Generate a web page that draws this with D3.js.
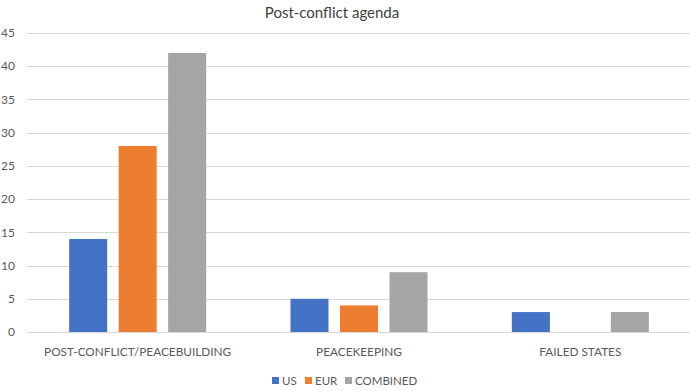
<!DOCTYPE html>
<html>
<head>
<meta charset="utf-8">
<script src="https://cdn.jsdelivr.net/npm/d3@7"></script>
<style>
  body { margin: 0; background: #fff; }
  svg text { font-family: Lato, "Open Sans", sans-serif; fill: #595959; }
</style>
</head>
<body>
<svg id="chart" width="690" height="391"></svg>
<script>
// data
const categories = ["POST-CONFLICT/PEACEBUILDING", "PEACEKEEPING", "FAILED STATES"];
const seriesNames = ["US", "EUR", "COMBINED"];
const usValues = [14, 5, 3];
const eurValues = [28, 4, 0];
const combinedValues = [42, 9, 3];
const yTicks = [0, 5, 10, 15, 20, 25, 30, 35, 40, 45];
const colors = ["#4472C4", "#ED7D31", "#A5A5A5"];

const svg = d3.select("#chart");
const plot = {left: 27, right: 691, top: 33, bottom: 332};

// title
svg.append("text")
    .attr("x", 332)
    .attr("y", 18)
    .attr("text-anchor", "middle")
    .style("font-size", "15px")
    .style("fill", "#404040")
    .text("Post-conflict agenda");

const y = d3.scaleLinear().domain([0, 45]).range([plot.bottom, plot.top]);

const x0 = d3.scaleBand().domain(categories).range([plot.left, plot.right]);
const groupW = 137;
const x1 = d3.scaleBand()
    .domain(seriesNames)
    .range([(x0.bandwidth() - groupW) / 2, (x0.bandwidth() + groupW) / 2])
    .paddingInner(0.232);

// gridlines
svg.append("g").selectAll("line")
    .data(yTicks)
    .join("line")
    .attr("x1", plot.left)
    .attr("x2", 690)
    .attr("y1", d => Math.round(y(d)) + 0.5)
    .attr("y2", d => Math.round(y(d)) + 0.5)
    .attr("stroke", "#d9d9d9")
    .attr("stroke-width", 1);

// y tick labels
svg.append("g").selectAll("text")
    .data(yTicks)
    .join("text")
    .attr("x", 15)
    .attr("y", d => y(d))
    .attr("dy", "0.35em")
    .attr("text-anchor", "end")
    .style("font-size", "12px")
    .text(d => d);

// bars
const rows = categories.map((c, i) => ({
    cat: c,
    vals: [usValues[i], eurValues[i], combinedValues[i]]
}));

const groups = svg.append("g").selectAll("g")
    .data(rows)
    .join("g")
    .attr("transform", d => `translate(${x0(d.cat)},0)`);

groups.selectAll("rect")
    .data(d => d.vals.map((v, j) => ({name: seriesNames[j], value: v, color: colors[j]})))
    .join("rect")
    .attr("x", d => x1(d.name))
    .attr("width", x1.bandwidth())
    .attr("y", d => y(d.value))
    .attr("height", d => y(0) - y(d.value))
    .attr("fill", d => d.color);

// category labels
svg.append("g").selectAll("text")
    .data(categories)
    .join("text")
    .attr("x", d => x0(d) + x0.bandwidth() / 2)
    .attr("y", 356)
    .attr("text-anchor", "middle")
    .style("font-size", "11.8px")
    .text(d => d);

// legend
const legendX = [272, 305, 345];
const legend = svg.append("g").selectAll("g")
    .data(seriesNames)
    .join("g")
    .attr("transform", (d, i) => `translate(${legendX[i]},377)`);

legend.append("rect")
    .attr("width", 7)
    .attr("height", 7)
    .attr("fill", (d, i) => colors[i]);

legend.append("text")
    .attr("x", 10)
    .attr("y", 4)
    .attr("dy", "0.35em")
    .style("font-size", "11.5px")
    .text(d => d);
</script>
</body>
</html>
